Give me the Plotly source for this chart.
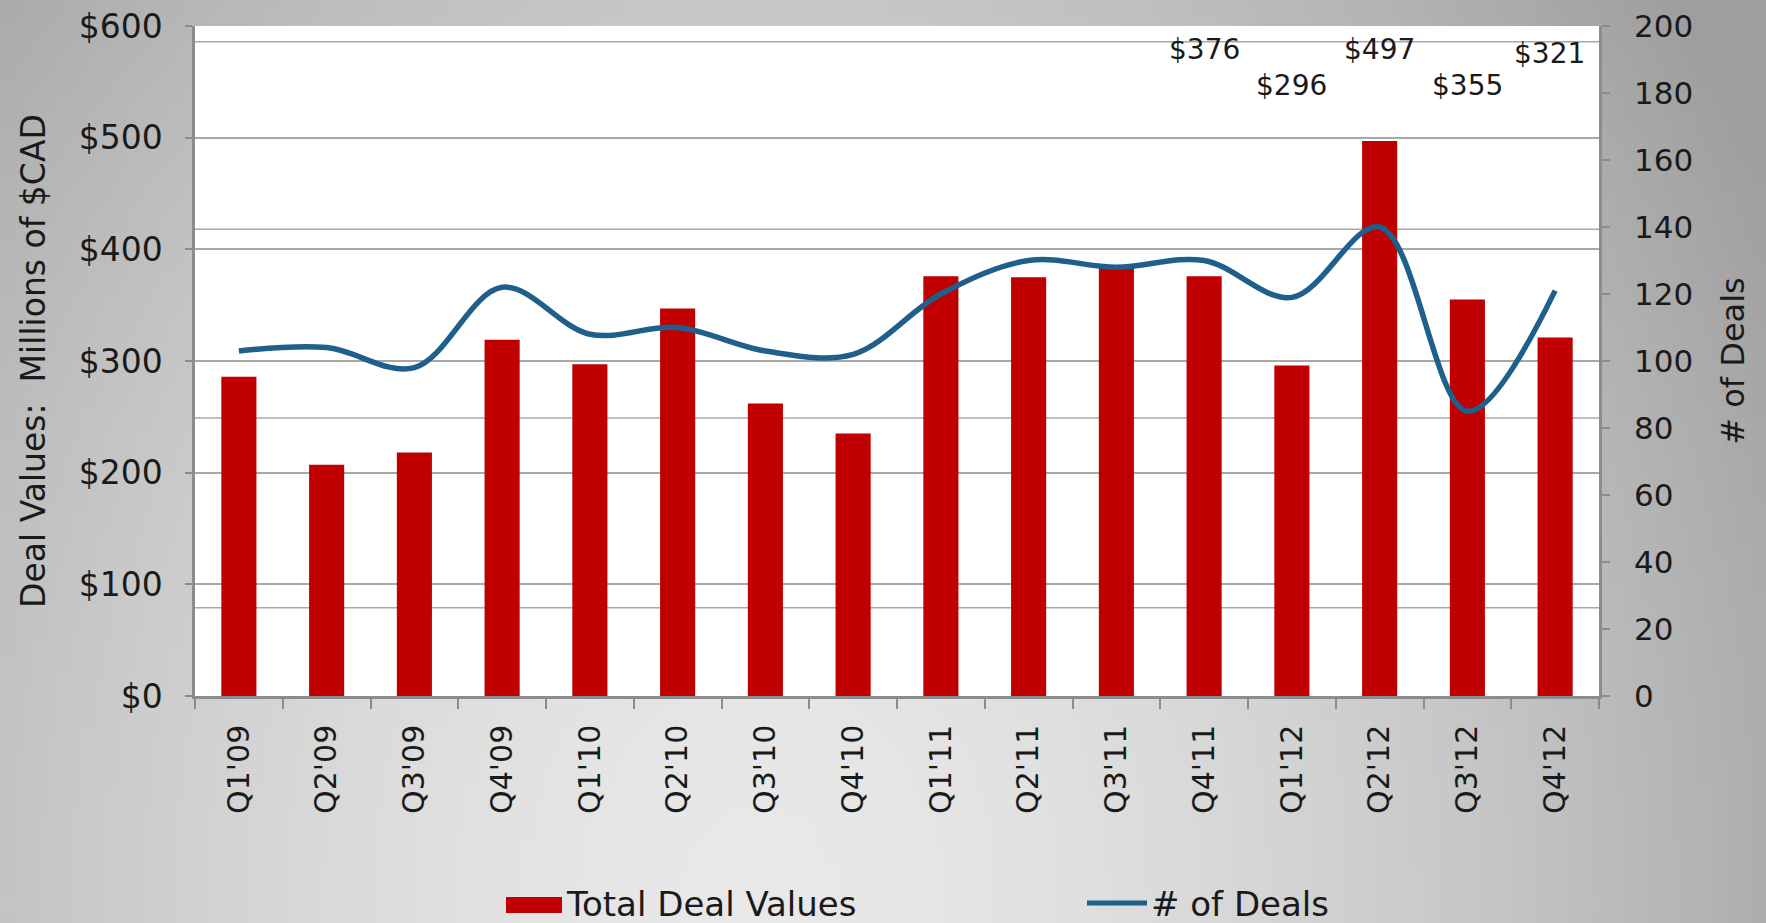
import base64
import struct
import zlib

import numpy as np
import plotly.graph_objects as go

# ---------------- data ----------------
quarters = ["Q1'09", "Q2'09", "Q3'09", "Q4'09", "Q1'10", "Q2'10", "Q3'10", "Q4'10",
            "Q1'11", "Q2'11", "Q3'11", "Q4'11", "Q1'12", "Q2'12", "Q3'12", "Q4'12"]
deal_values = [286, 207, 218, 319, 297, 347, 262, 235, 376, 375, 385, 376, 296, 497, 355, 321]
deal_counts = [103, 104, 98, 122, 108, 110, 103, 102, 120, 130, 128, 130, 119, 140, 85, 121]
labeled_quarters = ["Q4'11", "Q1'12", "Q2'12", "Q3'12", "Q4'12"]

left_ticks = [0, 100, 200, 300, 400, 500, 600]
right_ticks = [0, 20, 40, 60, 80, 100, 120, 140, 160, 180, 200]

# ---------------- style ----------------
W, H = 1766, 923
ML, MR, MT, MB = 195, 167, 26, 227
PW, PH = W - ML - MR, H - MT - MB
FONT = "DejaVu Sans, Verdana, sans-serif"
RED = "#C00000"
BLUE = "#1F5F8B"
GRID = "#A8A8A8"
AXIS = "#8C8C8C"
TXT = "#1A1A1A"
label_levels = [579, 547, 579, 547, 575]        # staggered label heights ($ axis units)
label_shift = [0, 0, 0, 0, -6]
extra_grid = [79, 249, 418, 586]                 # faint secondary rules in the original


def px_x(p):
    return (p - ML) / PW


def px_y(p):
    return (H - MB - p) / PH


# ---------------- background gradient image ----------------
def make_png(arr):
    h, w, _ = arr.shape
    raw = b"".join(b"\x00" + arr[r].tobytes() for r in range(h))

    def chunk(t, d):
        c = struct.pack(">I", len(d)) + t + d
        return c + struct.pack(">I", zlib.crc32(t + d) & 0xFFFFFFFF)

    return (b"\x89PNG\r\n\x1a\n"
            + chunk(b"IHDR", struct.pack(">IIBBBBB", w, h, 8, 2, 0, 0, 0))
            + chunk(b"IDAT", zlib.compress(raw, 9))
            + chunk(b"IEND", b""))


gw, gh = 177, 93
gx = (np.arange(gw) + 0.5) * W / gw
gy = (np.arange(gh) + 0.5) * H / gh
XX, YY = np.meshgrid(gx, gy)
d = np.sqrt(((XX - 760) / 1000.0) ** 2 + ((YY - 900) / 1250.0) ** 2)
v = np.clip(233 - 58 * d ** 1.6, 158, 236).astype(np.uint8)
img = np.stack([v, v, v], axis=-1)
src = "data:image/png;base64," + base64.b64encode(make_png(img)).decode()

# ---------------- figure ----------------
fig = go.Figure()
fig.add_trace(go.Bar(
    x=quarters, y=deal_values, name="Total Deal Values",
    marker=dict(color=RED, line=dict(width=0)), yaxis="y", showlegend=False,
))
fig.add_trace(go.Scatter(
    x=quarters, y=deal_counts, name="# of Deals", mode="lines",
    line=dict(color=BLUE, width=5.5, shape="spline", smoothing=1.0),
    yaxis="y2", showlegend=False,
))

for q, lvl, sh in zip(labeled_quarters, label_levels, label_shift):
    val = deal_values[quarters.index(q)]
    fig.add_annotation(x=q, y=lvl, xref="x", yref="y", text=f"${val}", showarrow=False,
                       xshift=sh, font=dict(family=FONT, size=28, color=TXT))

shapes = [dict(type="rect", xref="paper", yref="paper", x0=0, x1=1, y0=0, y1=1,
               fillcolor="white", line=dict(width=0), layer="below")]
for g in extra_grid:
    shapes.append(dict(type="line", xref="paper", yref="y", x0=0, x1=1, y0=g, y1=g,
                       line=dict(color=GRID, width=1.5), layer="below"))

# custom legend (long swatches like the original)
shapes.append(dict(type="rect", xref="paper", yref="paper",
                   x0=px_x(506), x1=px_x(562), y0=px_y(913), y1=px_y(897),
                   fillcolor=RED, line=dict(width=0)))
shapes.append(dict(type="line", xref="paper", yref="paper",
                   x0=px_x(1087), x1=px_x(1147), y0=px_y(903), y1=px_y(903),
                   line=dict(color=BLUE, width=5)))
fig.add_annotation(xref="paper", yref="paper", x=px_x(564), y=px_y(904),
                   xanchor="left", yanchor="middle", showarrow=False,
                   text="Total Deal Values", font=dict(family=FONT, size=34, color=TXT))
fig.add_annotation(xref="paper", yref="paper", x=px_x(1149), y=px_y(904),
                   xanchor="left", yanchor="middle", showarrow=False,
                   text="# of Deals", font=dict(family=FONT, size=34, color=TXT))

fig.update_layout(
    width=W, height=H,
    margin=dict(l=ML, r=MR, t=MT, b=MB, autoexpand=False),
    paper_bgcolor="#CFCFCF",
    plot_bgcolor="rgba(0,0,0,0)",
    bargap=0.6,
    showlegend=False,
    font=dict(family=FONT, color=TXT),
    shapes=shapes,
    images=[dict(source=src, xref="paper", yref="paper",
                 x=-ML / PW, y=1 + MT / PH, sizex=W / PW, sizey=H / PH,
                 sizing="stretch", xanchor="left", yanchor="top", layer="below")],
    xaxis=dict(
        type="category", categoryorder="array", categoryarray=quarters,
        showline=True, linecolor=AXIS, linewidth=2.5,
        ticks="outside", tickson="boundaries", ticklen=10, tickcolor=AXIS, tickwidth=1.5,
        tickangle=-90, tickfont=dict(family=FONT, size=30, color=TXT),
        ticklabelstandoff=14, showgrid=False,
    ),
    yaxis=dict(
        range=[0, 600], tickvals=left_ticks, ticktext=[f"${t}" for t in left_ticks],
        showline=True, linecolor=AXIS, linewidth=2.5,
        ticks="outside", ticklen=7, tickcolor=AXIS, tickwidth=1.5,
        tickfont=dict(family=FONT, size=33, color=TXT), ticklabelstandoff=16,
        showgrid=True, gridcolor=GRID, gridwidth=1.5, zeroline=False,
        title=dict(text="Deal Values:  Millions of $CAD", standoff=24,
                   font=dict(family=FONT, size=33, color=TXT)),
    ),
    yaxis2=dict(
        range=[0, 200], tickvals=right_ticks, overlaying="y", side="right",
        showline=True, linecolor=AXIS, linewidth=2.5,
        ticks="outside", ticklen=8, tickcolor=AXIS, tickwidth=1.5,
        tickfont=dict(family=FONT, size=31, color=TXT), ticklabelstandoff=18,
        showgrid=False, zeroline=False,
        title=dict(text="# of Deals", standoff=30,
                   font=dict(family=FONT, size=32, color=TXT)),
    ),
)

fig.write_html(
    "out.html",
    config={"displayModeBar": False},
    post_script="document.body.style.margin='0';document.body.style.overflow='hidden';",
)
